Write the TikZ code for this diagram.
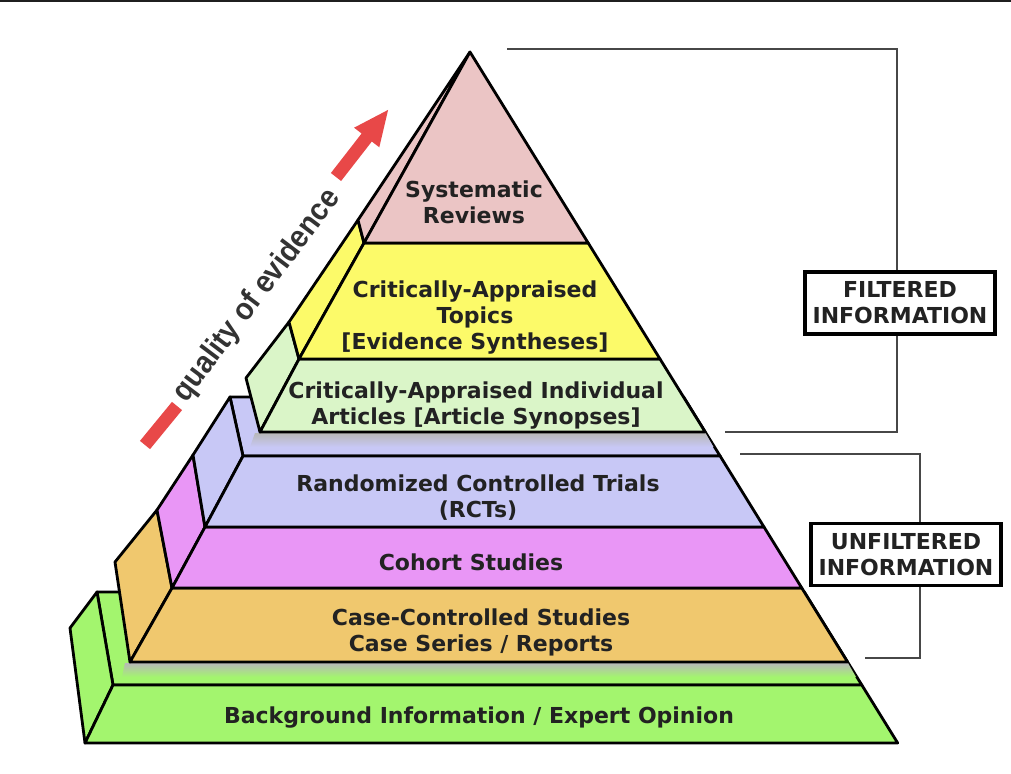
\documentclass[tikz,border=0pt]{standalone}
\usepackage{fontspec}
\setmainfont{DejaVu Sans}
\newfontfamily\qfont[FakeStretch=0.92]{Liberation Sans}
\usetikzlibrary{calc}
\definecolor{cpink}{RGB}{235,197,197}
\definecolor{cyellow}{RGB}{252,250,105}
\definecolor{clgreen}{RGB}{218,245,200}
\definecolor{clav}{RGB}{200,200,246}
\definecolor{cmag}{RGB}{233,150,246}
\definecolor{corange}{RGB}{240,200,110}
\definecolor{cgreen}{RGB}{163,245,110}
\definecolor{cred}{RGB}{232,72,72}
\definecolor{ctext}{RGB}{34,34,34}
\begin{document}
\begin{tikzpicture}[x=1pt,y=-1pt,
  face/.style={draw=black, line width=2.8pt, line join=round},
  lbl/.style={font=\bfseries\fontsize{22}{26}\selectfont, text=ctext, align=center, inner sep=0pt},
  tagbox/.style={draw=black, line width=3.4pt, fill=white, font=\bfseries\fontsize{22}{26}\selectfont, text=ctext, align=center, inner sep=0pt, minimum width=190pt, minimum height=62pt},
  brk/.style={draw=black!72, line width=1.6pt},
  shadowstrip/.style={top color=black!28}
]
\useasboundingbox (0,0) rectangle (1011,773);
\fill[white] (0,0) rectangle (1011,773);
\draw[line width=2.2pt, black!88] (0,1) -- (1011,1);

% ---------- lower pyramid (unfiltered) ----------
% green block
\filldraw[face, fill=cgreen] (97,592) -- (804.3,592) -- (861.8,685) -- (113,685) -- cycle;
\shade[shadowstrip, bottom color=cgreen] (125,663) -- (848,663) -- (856,677) -- (122,677) -- cycle;
\filldraw[face, fill=cgreen] (97,592) -- (113,685) -- (85,743) -- (70,628) -- cycle;
\filldraw[face, fill=cgreen] (113,685) -- (861.8,685) -- (897.7,743) -- (85,743) -- cycle;
% orange block
\filldraw[face, fill=corange] (157,510) -- (172,588) -- (130,662) -- (115,562) -- cycle;
\filldraw[face, fill=corange] (172,588) -- (801.8,588) -- (847.6,662) -- (130,662) -- cycle;
% magenta block
\filldraw[face, fill=cmag] (193,455) -- (205,527) -- (172,588) -- (157,510) -- cycle;
\filldraw[face, fill=cmag] (205,527) -- (764,527) -- (801.8,588) -- (172,588) -- cycle;
% lavender block
\filldraw[face, fill=clav] (230,397) -- (683.6,397) -- (720.1,456) -- (243,456) -- cycle;
\shade[shadowstrip, bottom color=clav] (255,433) -- (705.5,433) -- (713.5,447) -- (250,447) -- cycle;
\filldraw[face, fill=clav] (230,397) -- (243,456) -- (205,527) -- (193,455) -- cycle;
\filldraw[face, fill=clav] (243,456) -- (720.1,456) -- (764,527) -- (205,527) -- cycle;

% ---------- upper pyramid (filtered) ----------
\filldraw[face, fill=clgreen] (289,322) -- (299,359) -- (260,432) -- (246,378) -- cycle;
\filldraw[face, fill=clgreen] (299,359) -- (660,359) -- (705.2,432) -- (260,432) -- cycle;
\filldraw[face, fill=cyellow] (358,220) -- (364,243) -- (299,359) -- (289,322) -- cycle;
\filldraw[face, fill=cyellow] (364,243) -- (588.2,243) -- (660,359) -- (299,359) -- cycle;
\filldraw[face, fill=cpink] (470,52) -- (364,243) -- (358,220) -- cycle;
\filldraw[face, fill=cpink] (470,52) -- (588.2,243) -- (364,243) -- cycle;

% ---------- layer labels ----------
\node[lbl] (sr)  at (474,202) {Systematic\\Reviews};
\node[lbl] (cat) at (475,318) {Critically-Appraised\\Topics\\{}[Evidence Syntheses]};
\node[lbl] (cai) at (476,406) {Critically-Appraised Individual\\Articles [Article Synopses]};
\node[lbl] (rct) at (478,498) {Randomized Controlled Trials\\(RCTs)};
\node[lbl] (coh) at (471,562) {Cohort Studies};
\node[lbl] (ccs) at (481,632) {Case-Controlled Studies\\Case Series / Reports};
\node[lbl] (bg)  at (479,718) {Background Information / Expert Opinion};

% ---------- quality of evidence ----------
\draw[line width=13pt, cred] (145,445) -- (177,406);
\node[rotate=53, font=\qfont\bfseries\fontsize{31}{33}\selectfont, text=black!80, inner sep=0pt] (qe) at (257,296) {quality of evidence};
\fill[cred] (341.1,181.0) -- (371.8,141.5) -- (379.3,147.3) -- (388.1,109.9) -- (354.1,127.7) -- (361.6,133.5) -- (330.9,173.0) -- cycle;

% ---------- brackets ----------
\node[tagbox] (filt) at (900,303) {FILTERED\\INFORMATION};
\node[tagbox] (unf)  at (906,554.5) {UNFILTERED\\INFORMATION};
\coordinate (fa) at (507,49);
\coordinate (fb) at (897,49);
\coordinate (fc) at (897,432);
\coordinate (fd) at (725,432);
\coordinate (ua) at (740,454);
\coordinate (ub) at (920,454);
\coordinate (uc) at (920,658);
\coordinate (ud) at (865,658);
\draw[brk] (fa) -- (fb) -- (fb |- filt.north);
\draw[brk] (fc |- filt.south) -- (fc) -- (fd);
\draw[brk] (ua) -- (ub) -- (ub |- unf.north);
\draw[brk] (uc |- unf.south) -- (uc) -- (ud);
\end{tikzpicture}
\end{document}
